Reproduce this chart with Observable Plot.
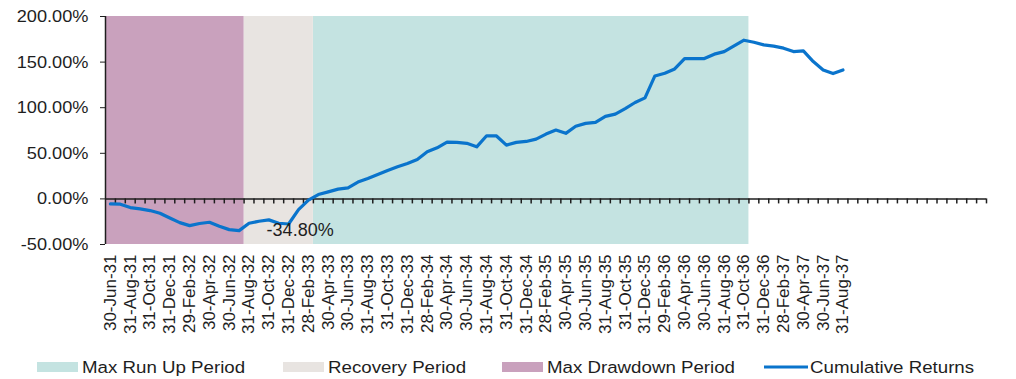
<!DOCTYPE html>
<html>
<head>
<meta charset="utf-8">
<script src="https://cdn.jsdelivr.net/npm/d3@7"></script>
<script src="https://cdn.jsdelivr.net/npm/@observablehq/plot@0.6"></script>
<style>
  html, body { margin: 0; padding: 0; background: #fff; }
  #chart svg, #legend svg { display: block; }
</style>
</head>
<body>
<div id="chart"></div>
<div id="legend"></div>
<script>
// ---- Data ----
const months = [
  "30-Jun-31","31-Jul-31","31-Aug-31","30-Sep-31","31-Oct-31","30-Nov-31","31-Dec-31",
  "31-Jan-32","29-Feb-32","31-Mar-32","30-Apr-32","31-May-32","30-Jun-32","31-Jul-32",
  "31-Aug-32","30-Sep-32","31-Oct-32","30-Nov-32","31-Dec-32","31-Jan-33","28-Feb-33",
  "31-Mar-33","30-Apr-33","31-May-33","30-Jun-33","31-Jul-33","31-Aug-33","30-Sep-33",
  "31-Oct-33","30-Nov-33","31-Dec-33","31-Jan-34","28-Feb-34","31-Mar-34","30-Apr-34",
  "31-May-34","30-Jun-34","31-Jul-34","31-Aug-34","30-Sep-34","31-Oct-34","30-Nov-34",
  "31-Dec-34","31-Jan-35","28-Feb-35","31-Mar-35","30-Apr-35","31-May-35","30-Jun-35",
  "31-Jul-35","31-Aug-35","30-Sep-35","31-Oct-35","30-Nov-35","31-Dec-35","31-Jan-36",
  "29-Feb-36","31-Mar-36","30-Apr-36","31-May-36","30-Jun-36","31-Jul-36","31-Aug-36",
  "30-Sep-36","31-Oct-36","30-Nov-36","31-Dec-36","31-Jan-37","28-Feb-37","31-Mar-37",
  "30-Apr-37","31-May-37","30-Jun-37","31-Jul-37","31-Aug-37"
];

// Cumulative returns in percent, one per month
const cumulativeReturns = [
  -5.5, -5.8, -9.5, -11.0, -12.8, -15.7, -20.9,
  -26.0, -29.3, -27.0, -25.6, -30.0, -33.7, -34.8,
  -26.7, -24.5, -23.0, -26.7, -27.5, -11.7, -1.4,
  4.8, 7.7, 10.7, 12.1, 18.4, 22.4, 26.8,
  31.2, 35.2, 38.9, 43.3, 51.6, 56.0, 62.3,
  62.0, 60.9, 57.1, 69.2, 69.0, 59.0, 62.0,
  63.0, 65.6, 71.1, 75.5, 71.9, 79.6, 82.8,
  83.9, 90.5, 93.0, 99.1, 105.7, 110.8, 134.8,
  137.8, 142.5, 153.9, 153.9, 153.9, 158.7, 161.5,
  167.8, 174.0, 171.8, 168.9, 167.5, 165.3, 161.5,
  162.3, 150.6, 141.4, 137.4, 141.4
];

// Empty category slots after the last month (unlabelled in the source)
const blankCategoryCount = 14;

// Shaded periods
const periodNames  = ["Max Run Up Period", "Recovery Period", "Max Drawdown Period"];
const periodStarts = ["31-Mar-33", "31-Aug-32", "30-Jun-31"];
const periodEnds   = ["31-Oct-36", "28-Feb-33", "31-Jul-32"];
const periodColors = ["#c4e3e1", "#e8e4e1", "#c9a1bd"];

const lineName  = "Cumulative Returns";
const lineColor = "#0a74cc";

const yTicks = [-50, 0, 50, 100, 150, 200];
const labelEvery = 2;

// ---- Derived tables ----
const nCats = months.length + blankCategoryCount;
const rows = months.map((m, i) => ({i, month: m, value: cumulativeReturns[i]}));
const periods = periodNames.map((name, k) => ({
  name,
  start: months.indexOf(periodStarts[k]),
  end: months.indexOf(periodEnds[k])
}));
const boundaries = d3.range(1, nCats + 1).map(k => k - 0.5);
const labelTicks = d3.range(0, months.length, labelEvery);
const trough = rows[d3.minIndex(rows, d => d.value)];
const xDomain = [-0.5, nCats - 0.5];
const pct = d => d.toFixed(2) + "%";

const FONT = "'Liberation Sans', Arial, Helvetica, sans-serif";
const INK = "#1e1e1e";

const chart = Plot.plot({
  width: 1016,
  height: 350,
  marginLeft: 105,
  marginRight: 30,
  marginTop: 16,
  marginBottom: 106,
  style: {fontFamily: FONT, fontSize: "17px", color: INK, background: "#fff", overflow: "visible"},
  x: {type: "linear", domain: xDomain},
  y: {domain: [yTicks[0], yTicks[yTicks.length - 1]]},
  color: {domain: periodNames, range: periodColors},
  marks: [
    Plot.rect(periods, {x1: d => d.start - 0.5, x2: d => d.end + 0.5, fill: d => d.name}),
    Plot.ruleX([xDomain[0]], {stroke: INK, strokeWidth: 1.5}),
    Plot.ruleY([0], {stroke: INK, strokeWidth: 1.5}),
    Plot.ruleX(boundaries, {y1: 0, y2: 0, insetBottom: -5, stroke: INK, strokeWidth: 1.5}),
    Plot.lineY(rows, {x: "i", y: "value", stroke: lineColor, strokeWidth: 3.2, strokeLinejoin: "round"}),
    Plot.text([trough], {x: "i", y: "value", text: d => pct(d.value), dx: 61, fontSize: 18, fill: INK, ariaLabel: "trough label"}),
    Plot.axisY({ticks: yTicks, tickFormat: pct, tickSize: 5, tickPadding: 12, label: null, fontSize: 17, stroke: INK}),
    Plot.axisX({ticks: labelTicks, tickFormat: i => months[i], tickRotate: -90, tickSize: 0, tickPadding: 10, label: null, fontSize: 17})
  ]
});

// horizontally widen horizontal texts to match source proportions
function widen(sel, k) {
  chart.querySelectorAll(sel).forEach(t => {
    t.setAttribute("transform", (t.getAttribute("transform") || "") + ` scale(${k},1)`);
  });
}
widen('g[aria-label="y-axis tick label"] text', 1.07);
widen('g[aria-label="trough label"] text', 1.05);

document.getElementById("chart").appendChild(chart);

// ---- Legend ----
const legendItems = [
  {name: periodNames[0], kind: "rect", color: periodColors[0], x: 37},
  {name: periodNames[1], kind: "rect", color: periodColors[1], x: 283},
  {name: periodNames[2], kind: "rect", color: periodColors[2], x: 502},
  {name: lineName, kind: "line", color: lineColor, x: 764}
];
const ns = "http://www.w3.org/2000/svg";
const lg = document.createElementNS(ns, "svg");
lg.setAttribute("width", 1016);
lg.setAttribute("height", 29);
lg.style.fontFamily = FONT;
lg.style.fontSize = "17px";
const cy = 17;
legendItems.forEach(it => {
  if (it.kind === "rect") {
    const r = document.createElementNS(ns, "rect");
    r.setAttribute("x", it.x); r.setAttribute("y", cy - 5);
    r.setAttribute("width", 41); r.setAttribute("height", 10);
    r.setAttribute("fill", it.color);
    lg.appendChild(r);
  } else {
    const l = document.createElementNS(ns, "line");
    l.setAttribute("x1", it.x); l.setAttribute("x2", it.x + 44);
    l.setAttribute("y1", cy); l.setAttribute("y2", cy);
    l.setAttribute("stroke", it.color); l.setAttribute("stroke-width", 3.2);
    lg.appendChild(l);
  }
  const t = document.createElementNS(ns, "text");
  t.setAttribute("transform", `translate(${it.x + (it.kind === "rect" ? 45 : 46)},${cy}) scale(1.1,1)`);
  t.setAttribute("dy", "0.35em");
  t.setAttribute("fill", INK);
  t.textContent = it.name;
  lg.appendChild(t);
});
document.getElementById("legend").appendChild(lg);
</script>
</body>
</html>
